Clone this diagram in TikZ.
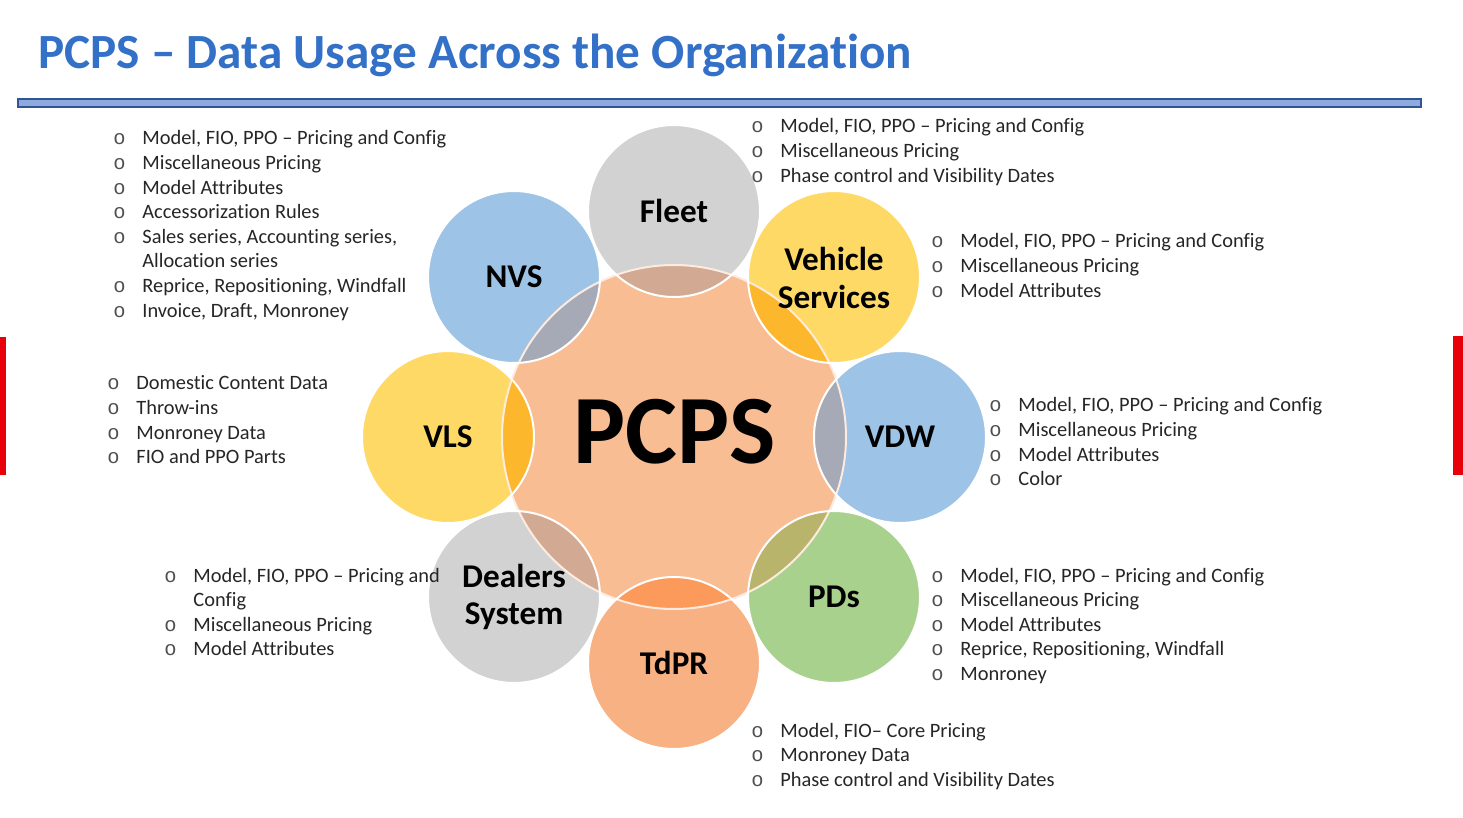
\documentclass[tikz,border=0pt]{standalone}
\usepackage{fontspec}
\setmainfont[Ligatures={TeX,NoCommon}]{Carlito}
\newfontfamily\bulletfont{Liberation Mono}
\usepackage{array}
\definecolor{titleblue}{HTML}{3370C8}
\definecolor{barfill}{HTML}{8FAADC}
\definecolor{barline}{HTML}{2F5597}
\definecolor{redbar}{HTML}{E8000B}
\definecolor{pcpsc}{HTML}{F9BD94}
\definecolor{ylw}{HTML}{FFD966}
\definecolor{blu}{HTML}{9DC3E6}
\definecolor{gry}{HTML}{D2D2D2}
\definecolor{grn}{HTML}{A9D18E}
\definecolor{org}{HTML}{F7B183}
\definecolor{ovY}{HTML}{FCB72C}
\definecolor{ovB}{HTML}{A6A9B6}
\definecolor{ovG}{HTML}{D2A993}
\definecolor{ovO}{HTML}{FC9A5C}
\definecolor{ovN}{HTML}{B9B46C}
\definecolor{txt}{HTML}{262626}
\definecolor{bulc}{HTML}{505050}
\newcommand{\bul}{\makebox[14.5pt][l]{\textcolor{bulc}{\bulletfont o}}}
\tikzset{
  listblk/.style={anchor=base west, inner sep=0pt, text=txt,
    font=\fontsize{10.2}{12.3}\selectfont},
  lbl/.style={align=center, inner sep=0pt, text=black,
    font=\bfseries\fontsize{16.6}{18.6}\selectfont},
  ring/.style={draw=white, line width=1pt},
}
\begin{document}
\begin{tikzpicture}[x=0.5pt,y=-0.5pt]
\useasboundingbox (0,0) rectangle (1463,818);
\fill[white] (0,0) rectangle (1463,818);
% title
\node[anchor=base west, inner sep=0pt, text=titleblue,
  font=\bfseries\fontsize{24.6}{30}\selectfont] (title) at (38,69)
  {PCPS – Data Usage Across the Organization};
\draw[barline, fill=barfill, line width=0.6pt] (18,99) rectangle (1421,107);
\fill[redbar] (0,337) rectangle (6,475);
\fill[redbar] (1453,336) rectangle (1463,475);
% centres
\coordinate (cP) at (674,437);
\coordinate (cFleet) at (674,211);
\coordinate (cVS) at (834,277);
\coordinate (cVDW) at (900,437);
\coordinate (cPDs) at (834,597);
\coordinate (cTdPR) at (674,663);
\coordinate (cDS) at (514,597);
\coordinate (cVLS) at (448,437);
\coordinate (cNVS) at (514,277);
% fills
\fill[pcpsc] (cP) circle[radius=86pt];
\fill[gry] (cFleet) circle[radius=43pt];
\fill[ylw] (cVS) circle[radius=43pt];
\fill[blu] (cVDW) circle[radius=43pt];
\fill[grn] (cPDs) circle[radius=43pt];
\fill[org] (cTdPR) circle[radius=43pt];
\fill[gry] (cDS) circle[radius=43pt];
\fill[ylw] (cVLS) circle[radius=43pt];
\fill[blu] (cNVS) circle[radius=43pt];
% overlaps
\begin{scope}
\clip (cP) circle[radius=86pt];
\fill[ovG] (cFleet) circle[radius=43pt];
\fill[ovY] (cVS) circle[radius=43pt];
\fill[ovB] (cVDW) circle[radius=43pt];
\fill[ovN] (cPDs) circle[radius=43pt];
\fill[ovO] (cTdPR) circle[radius=43pt];
\fill[ovG] (cDS) circle[radius=43pt];
\fill[ovY] (cVLS) circle[radius=43pt];
\fill[ovB] (cNVS) circle[radius=43pt];
\end{scope}
% outlines
\draw[ring, white!70!pcpsc] (cP) circle[radius=86pt];
\foreach \c in {cFleet,cVS,cVDW,cPDs,cTdPR,cDS,cVLS,cNVS}
  \draw[ring] (\c) circle[radius=43pt];
% labels
\node[lbl, font=\bfseries\fontsize{49}{55}\selectfont] (pcps) at (675,432) {PCPS};
\node[lbl] (fleet) at (cFleet) {Fleet};
\node[lbl] (vs) at (834,278) {Vehicle\\Services};
\node[lbl] (vdw) at (cVDW) {VDW};
\node[lbl] (pds) at (cPDs) {PDs};
\node[lbl] (tdpr) at (cTdPR) {TdPR};
\node[lbl] (ds) at (514,597) {Dealers\\System};
\node[lbl] (vls) at (cVLS) {VLS};
\node[lbl] (nvs) at (cNVS) {NVS};
% lists
\node[listblk] (lnvs) at (113,145) {\begin{tabular}[t]{@{}l@{}l@{}}
\bul & Model, FIO, PPO – Pricing and Config\\
\bul & Miscellaneous Pricing\\
\bul & Model Attributes\\
\bul & Accessorization Rules\\
\bul & Sales series, Accounting series,\\
 & Allocation series\\
\bul & Reprice, Repositioning, Windfall\\
\bul & Invoice, Draft, Monroney
\end{tabular}};
\node[listblk] (lfleet) at (751,133) {\begin{tabular}[t]{@{}l@{}l@{}}
\bul & Model, FIO, PPO – Pricing and Config\\
\bul & Miscellaneous Pricing\\
\bul & Phase control and Visibility Dates
\end{tabular}};
\node[listblk] (lvs) at (931,248) {\begin{tabular}[t]{@{}l@{}l@{}}
\bul & Model, FIO, PPO – Pricing and Config\\
\bul & Miscellaneous Pricing\\
\bul & Model Attributes
\end{tabular}};
\node[listblk] (lvdw) at (989,412) {\begin{tabular}[t]{@{}l@{}l@{}}
\bul & Model, FIO, PPO – Pricing and Config\\
\bul & Miscellaneous Pricing\\
\bul & Model Attributes\\
\bul & Color
\end{tabular}};
\node[listblk] (lvls) at (107,390) {\begin{tabular}[t]{@{}l@{}l@{}}
\bul & Domestic Content Data\\
\bul & Throw-ins\\
\bul & Monroney Data\\
\bul & FIO and PPO Parts
\end{tabular}};
\node[listblk] (lds) at (164,582) {\begin{tabular}[t]{@{}l@{}l@{}}
\bul & Model, FIO, PPO – Pricing and\\
 & Config\\
\bul & Miscellaneous Pricing\\
\bul & Model Attributes
\end{tabular}};
\node[listblk] (lpds) at (931,582) {\begin{tabular}[t]{@{}l@{}l@{}}
\bul & Model, FIO, PPO – Pricing and Config\\
\bul & Miscellaneous Pricing\\
\bul & Model Attributes\\
\bul & Reprice, Repositioning, Windfall\\
\bul & Monroney
\end{tabular}};
\node[listblk] (ltdpr) at (751,737) {\begin{tabular}[t]{@{}l@{}l@{}}
\bul & Model, FIO– Core Pricing\\
\bul & Monroney Data\\
\bul & Phase control and Visibility Dates
\end{tabular}};
\end{tikzpicture}
\end{document}
